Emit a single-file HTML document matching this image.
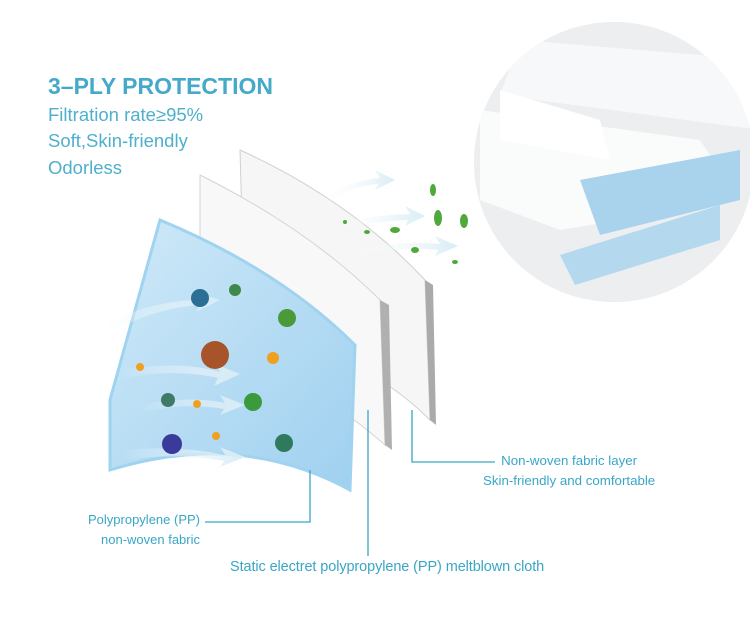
<!DOCTYPE html>
<html><head><meta charset="utf-8"><style>
html,body{margin:0;padding:0;background:#fff;width:750px;height:635px;overflow:hidden;font-family:"Liberation Sans",sans-serif}
.t{position:absolute;color:#4fb0cb;white-space:nowrap}
</style></head><body>
<div class="t" style="left:48px;top:73px;font-size:23px;font-weight:bold;color:#45a9c9">3–PLY PROTECTION</div>
<div class="t" style="left:48px;top:104px;font-size:18.5px">Filtration rate≥95%</div>
<div class="t" style="left:48px;top:130px;font-size:18.5px">Soft,Skin-friendly</div>
<div class="t" style="left:48px;top:157px;font-size:18.5px">Odorless</div>
<svg width="750" height="635" style="position:absolute;left:0;top:0">
<defs>
<clipPath id="c"><circle cx="614" cy="162" r="140"/></clipPath>
<linearGradient id="bl" x1="0" y1="0" x2="1" y2="1"><stop offset="0" stop-color="#cfe9f8"/><stop offset="1" stop-color="#9fd0f0"/></linearGradient>
<linearGradient id="ar" x1="0" x2="1"><stop offset="0" stop-color="#fff" stop-opacity="0"/><stop offset="1" stop-color="#d8ecf5"/></linearGradient>
</defs>
<circle cx="614" cy="162" r="140" fill="#eef1f3"/>
<g clip-path="url(#c)">
<rect x="470" y="20" width="290" height="290" fill="#eceef0"/>
<path d="M520 40 L760 60 L760 130 L500 95 Z" fill="#f7f8f9"/>
<path d="M480 110 L700 140 L740 200 L560 230 L480 200Z" fill="#fafbfb"/>
<path d="M580 180 L740 150 L740 200 L600 235 Z" fill="#a9d3ec"/>
<path d="M560 255 L720 205 L720 240 L575 285 Z" fill="#b4d8ee"/>
<path d="M500 90 L600 120 L610 160 L500 140Z" fill="#fff"/>
</g>
<path d="M240 150 Q350 200 425 280 L430 420 Q360 350 245 330 Z" fill="#f6f6f6" stroke="#d0d0d0"/>
<path d="M425 280 L433 285 L436 425 L430 420Z" fill="#aaa"/>
<path d="M200 175 Q310 230 380 300 L385 445 Q300 370 200 350 Z" fill="#f8f8f8" stroke="#d5d5d5"/>
<path d="M380 300 L389 305 L392 450 L385 445Z" fill="#b0b0b0"/>
<path d="M160 220 Q280 270 355 345 L350 490 Q240 430 110 470 L110 400 Z" fill="url(#bl)" stroke="#9fd3ef" stroke-width="3"/>
<g fill="url(#ar)">
<path d="M90 330 Q150 300 200 300 L195 292 L220 300 L196 312 L200 305 Q150 308 95 340Z"/>
<path d="M120 370 Q180 360 220 372 L215 364 L240 374 L214 386 L218 378 Q175 368 125 378Z"/>
<path d="M140 405 Q190 395 225 403 L220 395 L245 405 L220 415 L224 409 Q185 402 145 412Z"/>
<path d="M120 450 Q180 445 225 455 L220 447 L245 457 L220 467 L224 461 Q175 452 125 460Z"/>
<path d="M320 200 Q350 180 380 178 L375 170 L395 180 L375 190 L378 184 Q350 186 325 206Z"/>
<path d="M330 225 Q370 215 410 214 L405 206 L425 216 L405 226 L408 220 Q370 222 335 230Z"/>
<path d="M350 250 Q400 240 440 244 L435 236 L458 246 L435 256 L438 250 Q400 246 355 256Z"/>
</g>
<g>
<circle cx="200" cy="298" r="9" fill="#2b6f94"/><circle cx="235" cy="290" r="6" fill="#3e8a4c"/>
<circle cx="287" cy="318" r="9" fill="#4a9a3c"/><circle cx="215" cy="355" r="14" fill="#a8542a"/>
<circle cx="273" cy="358" r="6" fill="#f0a020"/><circle cx="140" cy="367" r="4" fill="#f0a020"/>
<circle cx="168" cy="400" r="7" fill="#3e7a66"/><circle cx="197" cy="404" r="4" fill="#f0a020"/>
<circle cx="253" cy="402" r="9" fill="#3a9a3c"/><circle cx="216" cy="436" r="4" fill="#f0a020"/>
<circle cx="172" cy="444" r="10" fill="#3a3a9a"/><circle cx="284" cy="443" r="9" fill="#2d7a5c"/>
</g>
<g fill="#4ea83a">
<ellipse cx="433" cy="190" rx="3" ry="6"/><ellipse cx="438" cy="218" rx="4" ry="8"/><ellipse cx="464" cy="221" rx="4" ry="7"/>
<ellipse cx="395" cy="230" rx="5" ry="3"/><ellipse cx="367" cy="232" rx="3" ry="2"/><ellipse cx="415" cy="250" rx="4" ry="3"/>
<ellipse cx="455" cy="262" rx="3" ry="2"/><ellipse cx="345" cy="222" rx="2" ry="2"/>
</g>
<g stroke="#3aa6c6" stroke-width="1.3" fill="none">
<polyline points="310,470 310,522 205,522"/>
<polyline points="368,410 368,556"/>
<polyline points="412,410 412,462 495,462"/>
</g>
</svg>
<div class="t" style="left:70px;top:510px;font-size:13px;width:130px;text-align:right;line-height:20px;color:#3aa6c6">Polypropylene (PP)<br>non-woven fabric</div>
<div class="t" style="left:230px;top:559px;font-size:14.5px;color:#3aa6c6;letter-spacing:-0.1px">Static electret polypropylene (PP) meltblown cloth</div>
<div class="t" style="left:483px;top:451px;font-size:13.3px;line-height:20px;color:#3aa6c6;text-align:center">Non-woven fabric layer<br>Skin-friendly and comfortable</div>
</body></html>
